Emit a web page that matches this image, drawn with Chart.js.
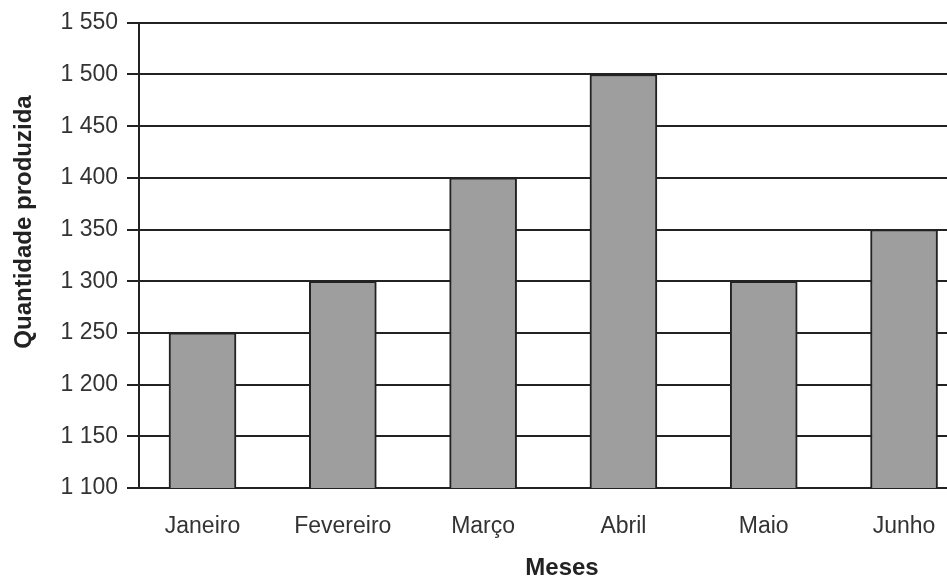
<!DOCTYPE html>
<html>
<head>
<meta charset="utf-8">
<script src="https://cdn.jsdelivr.net/npm/chart.js@4"></script>
<style>
  html, body { margin: 0; padding: 0; background: #fff; overflow: hidden; }
  /* the plot in the picture runs past the right edge, so the canvas is wider and clipped */
  #wrap { width: 947px; height: 580px; overflow: hidden; position: relative; }
</style>
</head>
<body>
<div id="wrap"><canvas id="my-canvas" width="985" height="580"></canvas></div>
<script>
// values
let months = ['Janeiro', 'Fevereiro', 'Março', 'Abril', 'Maio', 'Junho'];
let production = [1250, 1300, 1400, 1500, 1300, 1350];
let y_min = 1100;
let y_max = 1550;
let y_step = 50;
let y_title = 'Quantidade produzida';
let x_title = 'Meses';

function fmt_thousands(v) {
    return String(v).replace(/\B(?=(\d{3})+(?!\d))/g, ' ');
}

// y title sits a bit above the middle of the axis in the original, draw it by hand
const yTitlePlugin = {
    id: 'yTitle',
    afterDraw(chart) {
        let c = chart.ctx;
        c.save();
        c.translate(24, 222);
        c.rotate(-Math.PI / 2);
        c.font = 'bold 24px "Liberation Sans"';
        c.fillStyle = '#222';
        c.textAlign = 'center';
        c.textBaseline = 'middle';
        c.fillText(y_title, 0, 0);
        c.restore();
    }
};

function plot_production() {
    let ctx = document.getElementById('my-canvas');
    let points = months.map((m, i) => ({ x: i, y: production[i] }));
    let chart = new Chart(ctx, {
        type: 'bar',
        data: {
            datasets: [{
                label: y_title,
                data: points,
                backgroundColor: '#9e9e9e',
                borderColor: '#222',
                borderWidth: 2,
                barThickness: 67
            }]
        },
        options: {
            responsive: false,
            animation: false,
            layout: { padding: { top: 8, left: 0, right: 0, bottom: 0 } },
            scales: {
                x: {
                    type: 'linear',
                    offset: false,
                    min: -0.4526,
                    max: 5.577,
                    afterBuildTicks: (s) => { s.ticks = months.map((m, i) => ({ value: i })); },
                    afterFit: (s) => { s.height = 92; },
                    grid: { display: false, drawTicks: false },
                    border: { display: true, color: '#222', width: 2 },
                    ticks: {
                        padding: 25,
                        color: '#333',
                        font: { family: 'Liberation Sans', size: 23 },
                        maxRotation: 0,
                        autoSkip: false,
                        callback: (v) => months[v]
                    },
                    title: {
                        display: true,
                        text: x_title,
                        color: '#222',
                        font: { family: 'Liberation Sans', size: 24, weight: 'bold', lineHeight: 1 },
                        padding: { top: 0, bottom: 0 }
                    }
                },
                y: {
                    min: y_min,
                    max: y_max,
                    afterFit: (s) => { s.width = 139; },
                    grid: { color: '#222', lineWidth: 2, tickLength: 12 },
                    border: { display: true, color: '#222', width: 2 },
                    ticks: {
                        stepSize: y_step,
                        padding: 9,
                        color: '#333',
                        font: { family: 'Liberation Sans', size: 23 },
                        callback: (v) => fmt_thousands(v)
                    },
                    title: { display: false }
                }
            },
            plugins: {
                legend: { display: false },
                tooltip: { enabled: false }
            }
        },
        plugins: [yTitlePlugin]
    });
    return chart;
}

plot_production();
</script>
</body>
</html>
